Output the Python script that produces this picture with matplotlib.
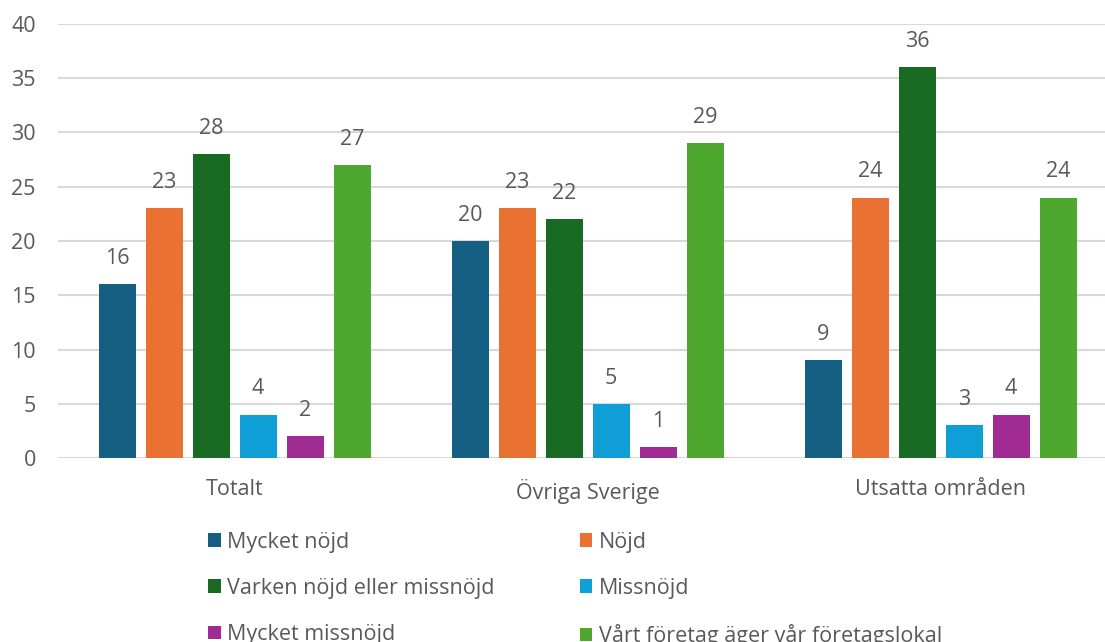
import numpy as np
import matplotlib
matplotlib.use('Agg')
import matplotlib.pyplot as plt
from matplotlib import rcParams

rcParams['font.family'] = ['Open Sans', 'DejaVu Sans']
rcParams['font.size'] = 16

# data
categories = ['Totalt', 'Övriga Sverige', 'Utsatta områden']
series_names = ['Mycket nöjd', 'Nöjd', 'Varken nöjd eller missnöjd',
                'Missnöjd', 'Mycket missnöjd', 'Vårt företag äger vår företagslokal']
mycket_nojd = [16, 20, 9]
nojd = [23, 23, 24]
varken = [28, 22, 36]
missnojd = [4, 5, 3]
mycket_missnojd = [2, 1, 4]
ager_lokal = [27, 29, 24]
y_ticks = [0, 5, 10, 15, 20, 25, 30, 35, 40]

colors = ['#156082', '#E97132', '#196B24', '#0F9ED5', '#A02B93', '#4EA72E']
text_color = '#595959'

all_series = [mycket_nojd, nojd, varken, missnojd, mycket_missnojd, ager_lokal]

W, H = 1105, 642
fig = plt.figure(figsize=(W / 100, H / 100), dpi=100)
ax = fig.add_axes([58 / W, (H - 458) / H, (W - 58) / W, (458 - 24) / H])

x = np.arange(len(categories))
step = 47 / 353
width = 37 / 353
handles = []
for i, (vals, name, c) in enumerate(zip(all_series, series_names, colors)):
    pos = x + (i - 2.5) * step
    bars = ax.bar(pos, vals, width, color=c, label=name, zorder=3)
    handles.append(bars)
    for b, v in zip(bars, vals):
        ax.annotate(str(v), (b.get_x() + b.get_width() / 2, v),
                    xytext=(0, 18.5), textcoords='offset points',
                    ha='center', va='center', color=text_color, fontsize=15.5)

ax.set_xlim(-0.5, -0.5 + (W - 58) / 353)
ax.set_ylim(0, 40)
ax.set_yticks(y_ticks)
ax.set_xticks(x)
ax.set_xticklabels(categories)
ax.tick_params(axis='both', length=0, colors=text_color, labelsize=15.5)
ax.tick_params(axis='x', pad=15)
ax.tick_params(axis='y', pad=16)
ax.yaxis.grid(True, color='#D9D9D9', linewidth=1.5, zorder=0)
for s in ax.spines.values():
    s.set_visible(False)

# legend is filled column by column, so reorder to read row by row
order = [0, 2, 4, 1, 3, 5]
leg = fig.legend([handles[i] for i in order], [series_names[i] for i in order],
                 loc='upper left', bbox_to_anchor=(199 / W, 1 - 523 / H),
                 ncol=2, frameon=False, fontsize=15.5, labelcolor=text_color,
                 handlelength=0.6, handleheight=0.6, handletextpad=0.3,
                 labelspacing=1.17, columnspacing=3.95, borderaxespad=0)

fig.savefig('out.png', dpi=100, facecolor='white')
